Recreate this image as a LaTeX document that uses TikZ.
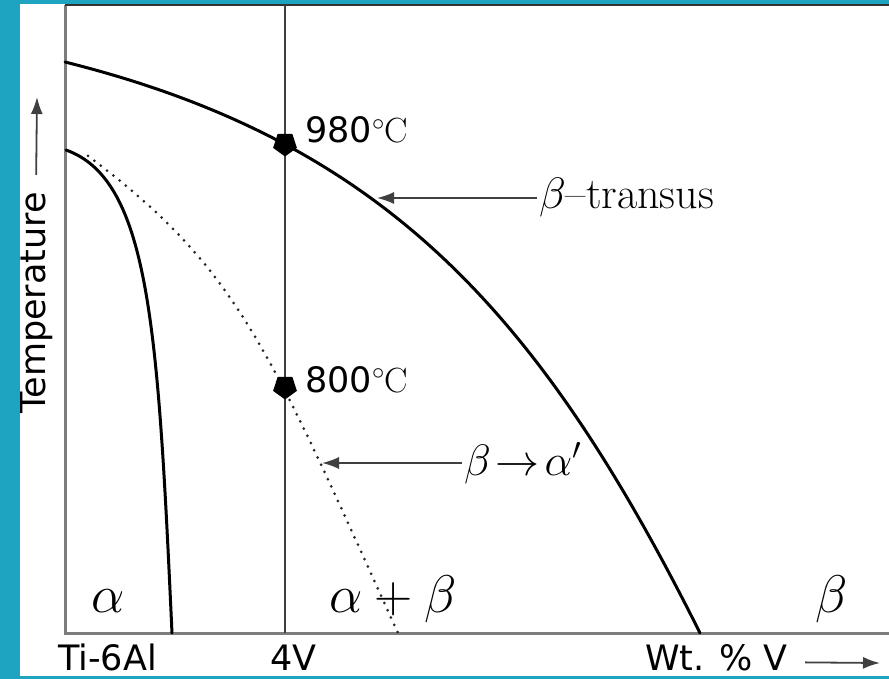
\RequirePackage{fix-cm}
\documentclass[tikz,border=0pt]{standalone}
\usepackage{fontspec}
\newfontfamily\labelfont{DejaVu Sans}
\usetikzlibrary{shapes.geometric,arrows.meta}
\definecolor{frameteal}{RGB}{30,163,192}
\definecolor{axisgray}{RGB}{125,125,125}
\tikzset{
  phaseline/.style={line width=3pt,line join=round,line cap=round},
  tempdot/.style={regular polygon,regular polygon sides=5,shape border rotate=180,fill=black,inner sep=0pt,minimum size=25pt},
  pointer/.style={draw=black!75,line width=1.8pt,-{Latex[length=17pt,width=12pt]}},
  sanslabel/.style={font=\labelfont\fontsize{35}{40}\selectfont,inner sep=2pt},
  mathlabel/.style={font=\fontsize{44}{50}\selectfont,inner sep=2pt},
  regionlabel/.style={font=\fontsize{53}{60}\selectfont,inner sep=0pt}
}
\begin{document}
\begin{tikzpicture}[x=1pt,y=-1pt]
\useasboundingbox (0,0) rectangle (889,679);
\fill[white] (0,0) rectangle (889,679);
% frame of the plot
\draw[axisgray,line width=3pt] (65,5) -- (65,633) -- (889,633);
\draw[black!80,line width=2pt] (65,5) -- (889,5);
\draw[black!75,line width=2pt] (285,5) -- (285,633);
% phase boundaries
\draw[phaseline] (65,62) .. controls (385,142) and (540,313) .. (700,633);
\draw[phaseline] (66,150) .. controls (150,180) and (158,330) .. (172,633);
\draw[black!85,line width=3pt,line cap=round,dash pattern=on 0pt off 8pt]
    (88,156) .. controls (238,268) and (268,347) .. (398,633);
% temperatures on the 4V line
\node[tempdot] (d980) at (285,144) {};
\node[tempdot] (d800) at (285,387) {};
\node[sanslabel,anchor=base west] (t980) at (303,143) {980\textrm{$^{\circ}$C}};
\node[sanslabel,anchor=base west] (t800) at (303,392) {800\textrm{$^{\circ}$C}};
% pointers
\coordinate (transustip) at (377,198);
\coordinate (martip) at (322,463);
\node[mathlabel,anchor=west] (transus) at (537,198) {$\beta$--transus};
\node[mathlabel,anchor=west] (mar) at (462,463) {$\beta\!\to\!\alpha'$};
\draw[pointer] (transus.west) -- (transustip);
\draw[pointer] (mar.west) -- (martip);
% phase fields
\node[regionlabel,anchor=base west] (alpha) at (91,612) {$\alpha$};
\node[regionlabel,anchor=base west] (alphabeta) at (329,612) {$\alpha+\beta$};
\node[regionlabel,anchor=base west] (beta) at (815,612) {$\beta$};
% axis labels
\node[sanslabel,rotate=90] (temp) at (36,303) {Temperature};
\coordinate (temptip) at (37,97);
\draw[pointer,shorten <=15pt] (temp.east) -- (temptip);
\node[sanslabel,anchor=base west] (ti) at (56,670) {Ti-6Al};
\node[sanslabel,anchor=base west] (fourv) at (268,670) {4V};
\node[sanslabel,anchor=base west] (wt) at (643,670) {Wt. \% V};
\coordinate (wttip) at (880,663);
\draw[pointer,shorten <=15pt] ([yshift=-5pt]wt.east) -- (wttip);
% teal border
\fill[frameteal] (0,0) rectangle (20,679);
\fill[frameteal] (0,0) rectangle (889,4);
\fill[frameteal] (0,676) rectangle (889,679);
\end{tikzpicture}
\end{document}
